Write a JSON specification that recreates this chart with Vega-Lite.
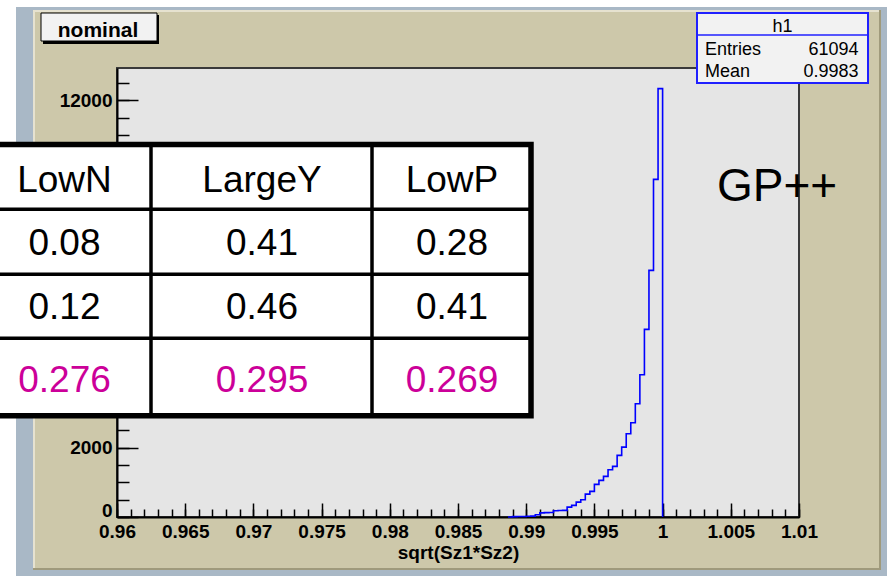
{
  "$schema": "https://vega.github.io/schema/vega-lite/v6.json",
  "width": 682,
  "height": 449,
  "autosize": {"type": "none"},
  "padding": {"left": 117, "top": 68, "right": 88, "bottom": 59},
  "background": "#cdc8aa",
  "config": {
    "view": {"fill": "#e5e5e5", "stroke": "#3a3a3a", "strokeWidth": 2},
    "font": "Liberation Sans"
  },
  "datasets": {
    "hist": [
      {"x": 0.988667, "count": 0},
      {"x": 0.989, "count": 10},
      {"x": 0.989333, "count": 15},
      {"x": 0.989667, "count": 15},
      {"x": 0.99, "count": 20},
      {"x": 0.990333, "count": 25},
      {"x": 0.990667, "count": 66},
      {"x": 0.991, "count": 120},
      {"x": 0.991333, "count": 125},
      {"x": 0.991667, "count": 130},
      {"x": 0.992, "count": 180},
      {"x": 0.992333, "count": 185},
      {"x": 0.992667, "count": 190},
      {"x": 0.993, "count": 285},
      {"x": 0.993333, "count": 334},
      {"x": 0.993667, "count": 429},
      {"x": 0.994, "count": 498},
      {"x": 0.994333, "count": 659},
      {"x": 0.994667, "count": 737},
      {"x": 0.995, "count": 938},
      {"x": 0.995333, "count": 1054},
      {"x": 0.995667, "count": 1169},
      {"x": 0.996, "count": 1362},
      {"x": 0.996333, "count": 1457},
      {"x": 0.996667, "count": 1773},
      {"x": 0.997, "count": 2012},
      {"x": 0.997333, "count": 2398},
      {"x": 0.997667, "count": 2715},
      {"x": 0.998, "count": 3261},
      {"x": 0.998333, "count": 4096},
      {"x": 0.998667, "count": 5400},
      {"x": 0.999, "count": 7099},
      {"x": 0.999333, "count": 9718},
      {"x": 0.999667, "count": 12330},
      {"x": 1.0, "count": 0}
    ],
    "table": [
      {"row": 0, "col": 0, "text": "LowN"},
      {"row": 0, "col": 1, "text": "LargeY"},
      {"row": 0, "col": 2, "text": "LowP"},
      {"row": 1, "col": 0, "text": "0.08"},
      {"row": 1, "col": 1, "text": "0.41"},
      {"row": 1, "col": 2, "text": "0.28"},
      {"row": 2, "col": 0, "text": "0.12"},
      {"row": 2, "col": 1, "text": "0.46"},
      {"row": 2, "col": 2, "text": "0.41"},
      {"row": 3, "col": 0, "text": "0.276"},
      {"row": 3, "col": 1, "text": "0.295"},
      {"row": 3, "col": 2, "text": "0.269"}
    ]
  },
  "layer": [
    {
      "layer": [
        {"data": {"values": [{}]}, "mark": {"type": "rect", "fill": "#ffffff", "strokeWidth": 0},
         "encoding": {"x": {"datum": 0.9514223, "axis": null}, "x2": {"datum": 0.9525953}, "y": {"datum": 14882.5, "axis": null}, "y2": {"datum": -1698.4}}},
        {"data": {"values": [{}]}, "mark": {"type": "rect", "fill": "#ffffff", "strokeWidth": 0},
         "encoding": {"x": {"datum": 0.9514223, "axis": null}, "x2": {"datum": 1.0164516}, "y": {"datum": 14882.5, "axis": null}, "y2": {"datum": 14681.0}}},
        {"data": {"values": [{}]}, "mark": {"type": "rect", "fill": "#a9b8c6", "strokeWidth": 0},
         "encoding": {"x": {"datum": 0.9525953, "axis": null}, "x2": {"datum": 0.9538416}, "y": {"datum": 14681.0, "axis": null}, "y2": {"datum": -1698.4}}},
        {"data": {"values": [{}]}, "mark": {"type": "rect", "fill": "#a9b8c6", "strokeWidth": 0},
         "encoding": {"x": {"datum": 0.9525953, "axis": null}, "x2": {"datum": 1.0164516}, "y": {"datum": 14681.0, "axis": null}, "y2": {"datum": 14594.6}}},
        {"data": {"values": [{}]}, "mark": {"type": "rect", "fill": "#a9b8c6", "strokeWidth": 0},
         "encoding": {"x": {"datum": 1.0160117, "axis": null}, "x2": {"datum": 1.0164516}, "y": {"datum": 14681.0, "axis": null}, "y2": {"datum": -1698.4}}},
        {"data": {"values": [{}]}, "mark": {"type": "rect", "fill": "#a9b8c6", "strokeWidth": 0},
         "encoding": {"x": {"datum": 0.9525953, "axis": null}, "x2": {"datum": 1.0164516}, "y": {"datum": -1525.7, "axis": null}, "y2": {"datum": -1698.4}}},
        {"data": {"values": [{}]}, "mark": {"type": "rect", "fill": "#9f9a7c", "strokeWidth": 0},
         "encoding": {"x": {"datum": 1.0158651, "axis": null}, "x2": {"datum": 1.0160117}, "y": {"datum": 14594.6, "axis": null}, "y2": {"datum": -1525.7}}},
        {"data": {"values": [{}]}, "mark": {"type": "rect", "fill": "#9f9a7c", "strokeWidth": 0},
         "encoding": {"x": {"datum": 0.9538416, "axis": null}, "x2": {"datum": 1.0160117}, "y": {"datum": -1468.1, "axis": null}, "y2": {"datum": -1525.7}}},
        {"data": {"values": [{}]}, "mark": {"type": "rect", "fill": "#e6e2d0", "strokeWidth": 0},
         "encoding": {"x": {"datum": 0.9538416, "axis": null}, "x2": {"datum": 0.9539883}, "y": {"datum": 14594.6, "axis": null}, "y2": {"datum": -1468.1}}},
        {"data": {"values": [{}]}, "mark": {"type": "rect", "fill": "#e6e2d0", "strokeWidth": 0},
         "encoding": {"x": {"datum": 0.9538416, "axis": null}, "x2": {"datum": 1.0158651}, "y": {"datum": 14594.6, "axis": null}, "y2": {"datum": 14537.0}}},
        {"data": {"values": [{}]}, "mark": {"type": "point", "opacity": 0},
         "encoding": {
           "x": {"datum": 0.96, "scale": {"domain": [0.96, 1.01], "nice": false, "zero": false},
                 "axis": {"orient": "bottom", "values": [0.96,0.961,0.962,0.963,0.964,0.965,0.966,0.967,0.968,0.969,0.97,0.971,0.972,0.973,0.974,0.975,0.976,0.977,0.978,0.979,0.98,0.981,0.982,0.983,0.984,0.985,0.986,0.987,0.988,0.989,0.99,0.991,0.992,0.993,0.994,0.995,0.996,0.997,0.998,0.999,1,1.001,1.002,1.003,1.004,1.005,1.006,1.007,1.008,1.009,1.01],
                          "labels": false, "domain": false, "grid": false, "title": null, "tickSize": -8, "tickWidth": 1.5, "tickColor": "#000000"}},
           "y": {"datum": 0, "scale": {"domain": [0, 12925], "nice": false, "zero": false},
                 "axis": {"orient": "left", "values": [0,500,1000,1500,2000,2500,3000,3500,4000,4500,5000,5500,6000,6500,7000,7500,8000,8500,9000,9500,10000,10500,11000,11500,12000,12500],
                          "labels": false, "domain": false, "grid": false, "title": null, "tickSize": -12, "tickWidth": 1.5, "tickColor": "#000000"}}
         }},
        {"data": {"name": "hist"},
         "mark": {"type": "line", "interpolate": "step-after", "color": "#0000ff", "strokeWidth": 1.6},
         "encoding": {
           "x": {"field": "x", "type": "quantitative", "scale": {"domain": [0.96, 1.01], "nice": false, "zero": false},
                 "axis": {"orient": "bottom", "values": [0.96,0.965,0.97,0.975,0.98,0.985,0.99,0.995,1,1.005,1.01], "format": "~g",
                          "title": "sqrt(Sz1*Sz2)", "titleFont": "Liberation Sans", "titleFontWeight": "bold", "titleFontSize": 19, "titleColor": "#000000", "titlePadding": 2,
                          "labelFont": "Liberation Sans", "labelFontWeight": "bold", "labelFontSize": 19, "labelColor": "#000000", "labelPadding": 19,
                          "labelFlush": false, "labelOverlap": false, "grid": false,
                          "tickSize": -14, "tickWidth": 1.5, "tickColor": "#000000", "domainColor": "#000000", "domainWidth": 2}},
           "y": {"field": "count", "type": "quantitative", "scale": {"domain": [0, 12925], "nice": false, "zero": false},
                 "axis": {"orient": "left", "values": [0,2000,12000], "format": "d", "title": null,
                          "labelFont": "Liberation Sans", "labelFontWeight": "bold", "labelFontSize": 19, "labelColor": "#000000", "labelPadding": 26,
                          "labelOffset": {"condition": {"test": "datum.value === 0", "value": -7}, "value": 0},
                          "labelFlush": false, "labelOverlap": false, "grid": false,
                          "tickSize": -21, "tickWidth": 1.5, "tickColor": "#000000", "domainColor": "#000000", "domainWidth": 2}}
         }},
        {"data": {"values": [{}]}, "mark": {"type": "rect", "fill": "#000000", "strokeWidth": 0},
         "encoding": {"x": {"datum": 0.9545748, "axis": null}, "x2": {"datum": 0.9630792}, "y": {"datum": 14450.7, "axis": null}, "y2": {"datum": 13615.9}}},
        {"data": {"values": [{}]}, "mark": {"type": "rect", "fill": "#f2f2f2", "stroke": "#000000", "strokeWidth": 1},
         "encoding": {"x": {"datum": 0.9544282, "axis": null}, "x2": {"datum": 0.9629326}, "y": {"datum": 14508.2, "axis": null}, "y2": {"datum": 13702.2}}},
        {"data": {"values": [{}]}, "mark": {"type": "text", "text": "nominal", "font": "Liberation Sans", "fontWeight": "bold", "fontSize": 21, "align": "center", "baseline": "alphabetic", "color": "#000000"},
         "encoding": {"x": {"datum": 0.958607, "axis": null}, "y": {"datum": 13808.7, "axis": null}}},
        {"data": {"values": [{}]}, "mark": {"type": "rect", "fill": "#f2f2f2", "stroke": "#2020ff", "strokeWidth": 2},
         "encoding": {"x": {"datum": 1.002522, "axis": null}, "x2": {"datum": 1.0150587}, "y": {"datum": 14508.2, "axis": null}, "y2": {"datum": 12493.2}}},
        {"data": {"values": [{}]}, "mark": {"type": "rule", "color": "#2020ff", "strokeWidth": 1.5},
         "encoding": {"x": {"datum": 1.002522, "axis": null}, "x2": {"datum": 1.0150587}, "y": {"datum": 13874.9, "axis": null}}},
        {"data": {"values": [{}]}, "mark": {"type": "text", "text": "h1", "font": "Liberation Sans", "fontSize": 18, "align": "center", "baseline": "alphabetic", "color": "#000000"},
         "encoding": {"x": {"datum": 1.0087903, "axis": null}, "y": {"datum": 13970.0, "axis": null}}},
        {"data": {"values": [{}]}, "mark": {"type": "text", "text": "Entries", "font": "Liberation Sans", "fontSize": 18, "align": "left", "baseline": "alphabetic", "color": "#000000"},
         "encoding": {"x": {"datum": 1.0031085, "axis": null}, "y": {"datum": 13299.2, "axis": null}}},
        {"data": {"values": [{}]}, "mark": {"type": "text", "text": "61094", "font": "Liberation Sans", "fontSize": 18, "align": "right", "baseline": "alphabetic", "color": "#000000"},
         "encoding": {"x": {"datum": 1.0143622, "axis": null}, "y": {"datum": 13299.2, "axis": null}}},
        {"data": {"values": [{}]}, "mark": {"type": "text", "text": "Mean", "font": "Liberation Sans", "fontSize": 18, "align": "left", "baseline": "alphabetic", "color": "#000000"},
         "encoding": {"x": {"datum": 1.0031085, "axis": null}, "y": {"datum": 12674.6, "axis": null}}},
        {"data": {"values": [{}]}, "mark": {"type": "text", "text": "0.9983", "font": "Liberation Sans", "fontSize": 18, "align": "right", "baseline": "alphabetic", "color": "#000000"},
         "encoding": {"x": {"datum": 1.0143622, "axis": null}, "y": {"datum": 12674.6, "axis": null}}},
        {"data": {"values": [{}]}, "mark": {"type": "text", "text": "GP++", "font": "Liberation Sans", "fontSize": 46, "align": "left", "baseline": "alphabetic", "color": "#000000"},
         "encoding": {"x": {"datum": 1.0039883, "axis": null}, "y": {"datum": 9110.8, "axis": null}}}
      ],
      "resolve": {"axis": {"x": "independent", "y": "independent"}}
    },
    {
      "layer": [
        {"data": {"values": [{}]}, "mark": {"type": "rect", "fill": "#ffffff", "stroke": "#000000", "strokeWidth": 5.5},
         "encoding": {
           "x": {"datum": -0.5, "scale": {"type": "linear", "domain": [-0.5, 0, 0.5, 1, 1.5, 2, 2.5], "range": [-137, -52.5, 34, 145, 255, 335, 414], "nice": false, "zero": false}, "axis": null},
           "x2": {"datum": 2.5},
           "y": {"datum": -0.5, "scale": {"type": "linear", "domain": [-0.5, 0, 0.5, 1, 1.5, 2, 2.5, 3, 3.5], "range": [76.5, 124, 141.3, 187, 206.2, 251, 270.3, 324, 347.8], "nice": false, "zero": false}, "axis": null},
           "y2": {"datum": 3.5}
         }},
        {"data": {"values": [{}]}, "mark": {"type": "rule", "color": "#000000", "strokeWidth": 3.5},
         "encoding": {"x": {"datum": 0.5, "axis": null}, "y": {"datum": -0.5, "axis": null}, "y2": {"datum": 3.5}}},
        {"data": {"values": [{}]}, "mark": {"type": "rule", "color": "#000000", "strokeWidth": 3.5},
         "encoding": {"x": {"datum": 1.5, "axis": null}, "y": {"datum": -0.5, "axis": null}, "y2": {"datum": 3.5}}},
        {"data": {"values": [{}]}, "mark": {"type": "rule", "color": "#000000", "strokeWidth": 3.5},
         "encoding": {"y": {"datum": 0.5, "axis": null}, "x": {"datum": -0.5, "axis": null}, "x2": {"datum": 2.5}}},
        {"data": {"values": [{}]}, "mark": {"type": "rule", "color": "#000000", "strokeWidth": 3.5},
         "encoding": {"y": {"datum": 1.5, "axis": null}, "x": {"datum": -0.5, "axis": null}, "x2": {"datum": 2.5}}},
        {"data": {"values": [{}]}, "mark": {"type": "rule", "color": "#000000", "strokeWidth": 3.5},
         "encoding": {"y": {"datum": 2.5, "axis": null}, "x": {"datum": -0.5, "axis": null}, "x2": {"datum": 2.5}}},
        {"data": {"name": "table"},
         "mark": {"type": "text", "font": "Liberation Sans", "fontSize": 37, "align": "center", "baseline": "alphabetic"},
         "encoding": {
           "x": {"field": "col", "type": "quantitative", "axis": null},
           "y": {"field": "row", "type": "quantitative", "axis": null},
           "text": {"field": "text", "type": "nominal"},
           "color": {"condition": {"test": "datum.row === 3", "value": "#cc0099"}, "value": "#000000"}
         }}
      ]
    }
  ],
  "resolve": {"scale": {"x": "independent", "y": "independent"}}
}
